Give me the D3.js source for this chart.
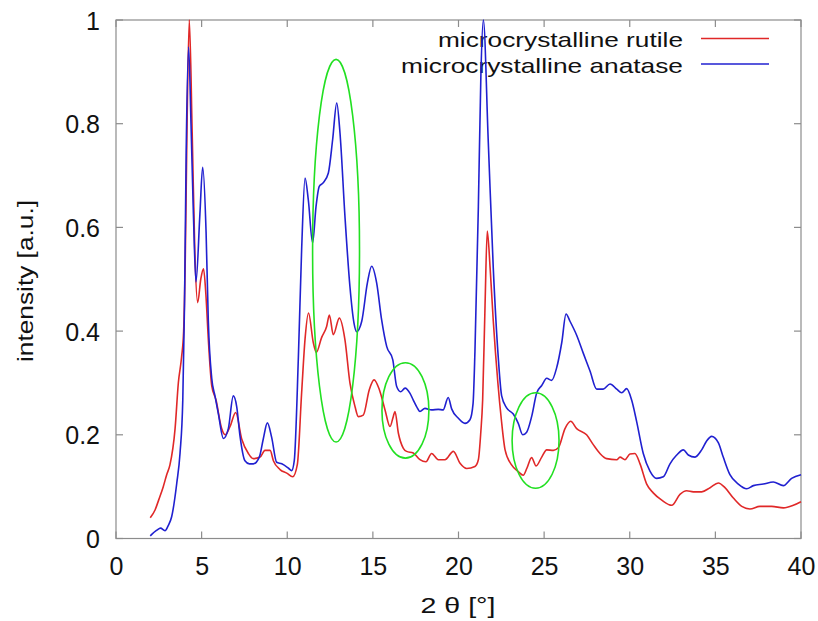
<!DOCTYPE html>
<html>
<head>
<meta charset="utf-8">
<script src="https://cdn.jsdelivr.net/npm/d3@7"></script>
<style>
  body { margin: 0; background: #fff; }
  svg { display: block; }
  text { font-family: "Liberation Sans", Arial, Helvetica, sans-serif; fill: #111; }
</style>
</head>
<body>
<div id="chart"></div>
<script>
// XRD-like intensity profiles
const rutileX = [2.0, 2.28, 2.5, 2.76, 2.96, 3.15, 3.45, 3.64, 3.83, 3.95, 4.05, 4.15, 4.28, 4.45, 4.6, 4.77, 4.95, 5.11, 5.25, 5.39,
  5.59, 5.84, 6.17, 6.37, 6.66, 6.99, 7.34, 7.73, 8.02, 8.41, 8.7, 9.0, 9.19, 9.58, 9.97, 10.32, 10.59, 10.84, 11.04, 11.24,
  11.52, 11.7, 12.0, 12.3, 12.46, 12.69, 13.04, 13.37, 13.66, 13.96, 14.15, 14.44, 14.79, 15.07, 15.38, 15.71, 16.0, 16.19, 16.29, 16.49,
  16.78, 16.97, 17.36, 17.75, 18.1, 18.43, 18.82, 19.21, 19.7, 20.09, 20.48, 20.96, 21.16, 21.3, 21.41, 21.55, 21.68, 21.85, 22.03, 22.3,
  22.5, 22.72, 23.1, 23.49, 23.78, 24.0, 24.27, 24.53, 24.86, 25.15, 25.54, 25.83, 26.22, 26.55, 26.9, 27.48, 27.87, 28.26, 28.65, 29.24,
  29.43, 29.72, 30.01, 30.3, 30.6, 30.99, 31.37, 31.87, 32.45, 32.93, 33.32, 33.71, 34.2, 34.69, 35.17, 35.56, 36.05, 36.54, 37.02, 37.6,
  38.29, 38.97, 39.55, 40.0];
const rutileY = [0.04, 0.055, 0.075, 0.10, 0.123, 0.142, 0.212, 0.30, 0.35, 0.40, 0.55, 0.80, 1.0, 0.78, 0.557, 0.455, 0.50, 0.52, 0.47, 0.385,
  0.295, 0.267, 0.212, 0.20, 0.216, 0.243, 0.192, 0.164, 0.154, 0.157, 0.17, 0.17, 0.15, 0.133, 0.126, 0.119, 0.143, 0.281, 0.385, 0.435,
  0.378, 0.359, 0.387, 0.409, 0.431, 0.393, 0.425, 0.383, 0.30, 0.254, 0.235, 0.238, 0.287, 0.306, 0.287, 0.248, 0.216, 0.235, 0.245, 0.203,
  0.174, 0.168, 0.165, 0.152, 0.148, 0.164, 0.152, 0.152, 0.168, 0.145, 0.135, 0.139, 0.152, 0.204, 0.267, 0.45, 0.593, 0.52, 0.42, 0.30,
  0.23, 0.171, 0.142, 0.129, 0.122, 0.136, 0.156, 0.14, 0.157, 0.171, 0.17, 0.175, 0.212, 0.226, 0.212, 0.20, 0.181, 0.164, 0.154, 0.152,
  0.157, 0.152, 0.163, 0.164, 0.144, 0.105, 0.088, 0.074, 0.064, 0.085, 0.092, 0.09, 0.09, 0.098, 0.107, 0.098, 0.078, 0.062, 0.057, 0.062,
  0.062, 0.059, 0.064, 0.071];

const anataseX = [2.0, 2.38, 2.6, 2.86, 3.05, 3.25, 3.55, 3.74, 3.9, 4.0, 4.1, 4.24, 4.38, 4.52, 4.67, 4.9, 5.06, 5.26, 5.39, 5.59,
  5.78, 5.98, 6.27, 6.56, 6.85, 7.05, 7.24, 7.53, 7.79, 8.02, 8.37, 8.6, 8.84, 9.09, 9.38, 9.68, 10.06, 10.26, 10.41, 10.65,
  10.84, 11.04, 11.23, 11.48, 11.68, 11.87, 12.1, 12.4, 12.65, 12.89, 13.08, 13.37, 13.66, 13.9, 14.05, 14.35, 14.68, 14.93, 15.22, 15.51,
  15.81, 16.16, 16.39, 16.62, 16.88, 17.17, 17.36, 17.56, 17.75, 18.04, 18.43, 18.82, 19.1, 19.4, 19.6, 19.99, 20.38, 20.67, 20.85, 20.96,
  21.16, 21.31, 21.45, 21.74, 22.03, 22.32, 22.52, 22.81, 23.2, 23.49, 23.75, 23.98, 24.27, 24.57, 24.86, 25.15, 25.44, 25.73, 26.03, 26.28,
  26.51, 26.9, 27.29, 27.68, 28.07, 28.45, 28.85, 29.24, 29.53, 29.82, 30.11, 30.4, 30.79, 31.18, 31.57, 31.96, 32.35, 32.74, 33.13, 33.42,
  33.81, 34.2, 34.49, 34.78, 35.17, 35.46, 35.85, 36.34, 36.83, 37.22, 37.8, 38.38, 38.97, 39.45, 40.0];
const anataseY = [0.005, 0.016, 0.02, 0.015, 0.025, 0.042, 0.107, 0.165, 0.267, 0.45, 0.75, 0.948, 0.80, 0.626, 0.495, 0.626, 0.716, 0.591, 0.42, 0.309,
  0.275, 0.24, 0.193, 0.212, 0.275, 0.254, 0.198, 0.15, 0.144, 0.144, 0.157, 0.192, 0.223, 0.195, 0.147, 0.144, 0.136, 0.131, 0.15, 0.35,
  0.557, 0.695, 0.653, 0.57, 0.64, 0.679, 0.686, 0.705, 0.769, 0.84, 0.782, 0.621, 0.486, 0.415, 0.399, 0.419, 0.493, 0.525, 0.493, 0.422,
  0.37, 0.345, 0.293, 0.283, 0.29, 0.28, 0.267, 0.254, 0.245, 0.251, 0.248, 0.249, 0.248, 0.272, 0.25, 0.232, 0.222, 0.229, 0.26, 0.36,
  0.64, 0.898, 1.0, 0.764, 0.522, 0.35, 0.275, 0.252, 0.24, 0.222, 0.2, 0.205, 0.235, 0.281, 0.295, 0.309, 0.305, 0.329, 0.378, 0.433,
  0.419, 0.392, 0.357, 0.323, 0.288, 0.288, 0.298, 0.288, 0.281, 0.289, 0.267, 0.226, 0.164, 0.13, 0.116, 0.119, 0.144, 0.161, 0.171, 0.161,
  0.157, 0.171, 0.188, 0.197, 0.185, 0.157, 0.123, 0.105, 0.096, 0.102, 0.105, 0.109, 0.102, 0.116, 0.123];

const seriesNames = ['microcrystalline rutile', 'microcrystalline anatase'];
const xTicks = [0, 5, 10, 15, 20, 25, 30, 35, 40];
const yTicks = [0, 0.2, 0.4, 0.6, 0.8, 1];
const yTickLabels = ['0', '0.2', '0.4', '0.6', '0.8', '1'];

// highlighted regions (data units): centre x, centre y, radius x, radius y
const ringX = [12.85, 16.9, 24.5];
const ringY = [0.555, 0.247, 0.189];
const ringRx = [1.37, 1.37, 1.37];
const ringRy = [0.369, 0.092, 0.092];

const config = {
  width: 818, height: 621,
  margin: { top: 20, right: 17, bottom: 82.5, left: 116 },
  colors: ['#e02828', '#2020d0'],
  tickLen: 7
};

const svg = d3.select('#chart').append('svg')
  .attr('width', config.width)
  .attr('height', config.height);

const m = config.margin;
const x = d3.scaleLinear().domain([0, 40]).range([m.left, config.width - m.right]);
const y = d3.scaleLinear().domain([0, 1]).range([config.height - m.bottom, m.top]);

const x0 = x.range()[0], x1 = x.range()[1], y0 = y.range()[0], y1 = y.range()[1];

// gnuplot-like frame: border with inward ticks on all four sides
const tickStroke = '#8c8c8c';
const frame = svg.append('g');
frame.append('rect')
  .attr('x', x0).attr('y', y1)
  .attr('width', x1 - x0).attr('height', y0 - y1)
  .attr('fill', 'none').attr('stroke', tickStroke).attr('stroke-width', 1.2);

xTicks.forEach(t => {
  frame.append('line').attr('x1', x(t)).attr('x2', x(t)).attr('y1', y0).attr('y2', y0 - config.tickLen)
    .attr('stroke', tickStroke).attr('stroke-width', 1.2);
  frame.append('line').attr('x1', x(t)).attr('x2', x(t)).attr('y1', y1).attr('y2', y1 + config.tickLen)
    .attr('stroke', tickStroke).attr('stroke-width', 1.2);
});
yTicks.forEach(t => {
  frame.append('line').attr('x1', x0).attr('x2', x0 + config.tickLen).attr('y1', y(t)).attr('y2', y(t))
    .attr('stroke', tickStroke).attr('stroke-width', 1.2);
  frame.append('line').attr('x1', x1).attr('x2', x1 - config.tickLen).attr('y1', y(t)).attr('y2', y(t))
    .attr('stroke', tickStroke).attr('stroke-width', 1.2);
});

// tick labels
const xAxis = d3.axisBottom(x).tickValues(xTicks).tickSize(0).tickPadding(0).tickFormat(d3.format('d'));
const gx = svg.append('g').attr('transform', `translate(0,${y0})`).call(xAxis);
gx.select('.domain').remove();
gx.selectAll('text')
  .attr('y', 36).attr('dy', 0)
  .style('font-size', '25px')
  .style('font-family', '"Liberation Sans", Arial, sans-serif')
  .attr('fill', '#111');

const yAxis = d3.axisLeft(y).tickValues(yTicks).tickSize(0).tickPadding(0)
  .tickFormat((d, i) => yTickLabels[i]);
const gy = svg.append('g').attr('transform', `translate(${x0 - 16},0)`).call(yAxis);
gy.select('.domain').remove();
gy.selectAll('text')
  .attr('x', 0).attr('dy', '0.36em')
  .style('font-size', '25px')
  .style('font-family', '"Liberation Sans", Arial, sans-serif')
  .attr('fill', '#111');

// axis titles
svg.append('text')
  .attr('x', (x0 + x1) / 2 - 0.5).attr('y', 613)
  .attr('text-anchor', 'middle')
  .style('font-size', '22px')
  .attr('textLength', 75).attr('lengthAdjust', 'spacingAndGlyphs')
  .text('2 \u03b8  [\u00b0]');

svg.append('text')
  .attr('transform', 'translate(33,281) rotate(-90)')
  .attr('text-anchor', 'middle')
  .style('font-size', '22px')
  .attr('textLength', 162).attr('lengthAdjust', 'spacingAndGlyphs')
  .text('intensity [a.u.]');

// legend (drawn before the curves, which cross it)
const legendRight = 683, legendLine = [701, 769], legendY = [38.5, 64];
const legendW = [245, 282];
seriesNames.forEach((name, i) => {
  svg.append('text')
    .attr('x', legendRight).attr('y', legendY[i] + 8.5)
    .attr('text-anchor', 'end')
    .style('font-size', '21px')
    .attr('textLength', legendW[i]).attr('lengthAdjust', 'spacingAndGlyphs')
    .text(name);
  svg.append('line')
    .attr('x1', legendLine[0]).attr('x2', legendLine[1])
    .attr('y1', legendY[i]).attr('y2', legendY[i])
    .attr('stroke', config.colors[i]).attr('stroke-width', 1.5);
});

// curves
const line = d3.line()
  .x(d => x(d[0]))
  .y(d => y(d[1]))
  .curve(d3.curveMonotoneX);

const series = [
  d3.zip(rutileX, rutileY),
  d3.zip(anataseX, anataseY)
];

svg.append('g').selectAll('path')
  .data(series)
  .join('path')
  .attr('d', line)
  .attr('fill', 'none')
  .attr('stroke', (d, i) => config.colors[i])
  .attr('stroke-width', 1.6)
  .attr('stroke-linejoin', 'round');

// green rings around the features of interest
svg.append('g').selectAll('ellipse')
  .data(d3.range(ringX.length))
  .join('ellipse')
  .attr('cx', i => x(ringX[i]))
  .attr('cy', i => y(ringY[i]))
  .attr('rx', i => x(ringRx[i]) - x(0))
  .attr('ry', i => y(0) - y(ringRy[i]))
  .attr('fill', 'none')
  .attr('stroke', '#22e022')
  .attr('stroke-width', 1.6);
</script>
</body>
</html>
